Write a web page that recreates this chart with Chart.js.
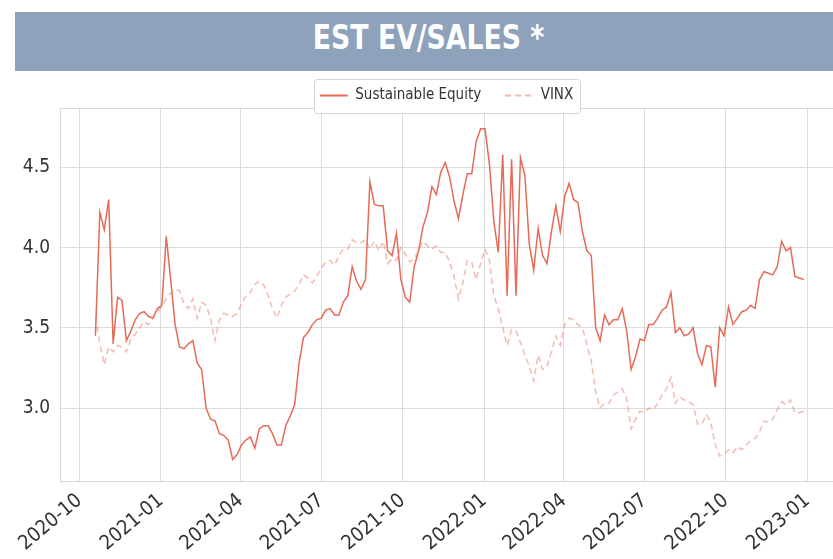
<!DOCTYPE html>
<html>
<head>
<meta charset="utf-8">
<title>EST EV/SALES *</title>
<script src="https://cdn.jsdelivr.net/npm/chart.js@4.4.1/dist/chart.umd.min.js"></script>
<style>
  html, body { margin: 0; padding: 0; background: #fff; }
  #wrap { position: relative; width: 833px; height: 559px; overflow: hidden; }
  #banner {
    position: absolute; left: 15px; top: 12px; width: 818px; height: 59px;
    box-sizing: border-box; padding-left: 10px;
    background: #8fa2bc; color: #fff; text-align: center; line-height: 59px;
    font: bold 33px 'DejaVu Sans Condensed', 'DejaVu Sans', sans-serif;
    z-index: 2;
  }
  #banner span { display: inline-block; transform: scaleX(0.9); position: relative; top: 6px; }
  #chart { position: absolute; left: 0; top: 0; }
</style>
</head>
<body>
<div id="wrap">
  <div id="banner"><span>EST EV/SALES *</span></div>
  <canvas id="chart" width="833" height="559"></canvas>
</div>
<script>
// one value every 5 calendar days, starting on firstDate
const firstDate = '2020-10-19';
const stepDays = 5;

const sustainableEquity = [
  3.45, 4.22, 4.11, 4.30, 3.40, 3.69, 3.67, 3.42, 3.48, 3.55,
  3.59, 3.60, 3.57, 3.56, 3.62, 3.64, 4.07, 3.80, 3.52, 3.38,
  3.37, 3.40, 3.42, 3.28, 3.24, 3.00, 2.93, 2.92, 2.84, 2.83,
  2.80, 2.68, 2.71, 2.77, 2.80, 2.82, 2.75, 2.87, 2.89, 2.89,
  2.84, 2.77, 2.77, 2.89, 2.95, 3.02, 3.28, 3.44, 3.47, 3.52,
  3.55, 3.56, 3.61, 3.62, 3.58, 3.58, 3.66, 3.70, 3.88, 3.79,
  3.74, 3.80, 4.41, 4.27, 4.26, 4.26, 3.98, 3.95, 4.09, 3.80,
  3.69, 3.66, 3.88, 3.98, 4.13, 4.22, 4.38, 4.33, 4.47, 4.53,
  4.44, 4.29, 4.18, 4.33, 4.46, 4.46, 4.66, 4.74, 4.74, 4.52,
  4.16, 3.97, 4.58, 3.70, 4.55, 3.70, 4.56, 4.45, 4.02, 3.86,
  4.12, 3.95, 3.90, 4.10, 4.26, 4.10, 4.32, 4.40, 4.30, 4.28,
  4.10, 3.98, 3.95, 3.50, 3.42, 3.58, 3.52, 3.55, 3.55, 3.62,
  3.48, 3.24, 3.32, 3.43, 3.42, 3.52, 3.52, 3.56, 3.61, 3.63,
  3.72, 3.47, 3.50, 3.45, 3.46, 3.50, 3.34, 3.27, 3.39, 3.38,
  3.13, 3.50, 3.45, 3.63, 3.52, 3.56, 3.60, 3.61, 3.64, 3.62,
  3.80, 3.85, 3.84, 3.83, 3.88, 4.04, 3.98, 4.00, 3.82, 3.81,
  3.80
];

const vinx = [
  3.57, 3.40, 3.27, 3.38, 3.35, 3.39, 3.38, 3.35, 3.43, 3.46,
  3.50, 3.54, 3.52, 3.56, 3.60, 3.63, 3.68, 3.72, 3.74, 3.73,
  3.65, 3.62, 3.68, 3.56, 3.66, 3.64, 3.56, 3.42, 3.55, 3.59,
  3.58, 3.57, 3.59, 3.65, 3.70, 3.72, 3.77, 3.79, 3.77, 3.70,
  3.62, 3.56, 3.64, 3.69, 3.71, 3.73, 3.77, 3.83, 3.81, 3.78,
  3.82, 3.87, 3.91, 3.92, 3.89, 3.95, 3.99, 3.99, 4.05, 4.03,
  4.03, 4.05, 3.99, 4.04, 3.98, 4.04, 3.90, 3.93, 3.92, 4.00,
  3.96, 3.91, 3.93, 3.98, 4.04, 4.01, 3.99, 4.01, 3.97, 3.97,
  3.91, 3.82, 3.68, 3.78, 3.92, 3.91, 3.80, 3.90, 3.99, 3.92,
  3.70, 3.62, 3.50, 3.39, 3.49, 3.48, 3.41, 3.33, 3.26, 3.17,
  3.33, 3.24, 3.26, 3.35, 3.45, 3.39, 3.52, 3.56, 3.55, 3.52,
  3.50, 3.40, 3.29, 3.10, 3.00, 3.03, 3.03, 3.08, 3.10, 3.12,
  3.06, 2.87, 2.93, 2.98, 2.97, 3.00, 2.99, 3.03, 3.08, 3.12,
  3.19, 3.03, 3.07, 3.05, 3.04, 3.02, 2.90, 2.90, 2.96, 2.91,
  2.77, 2.70, 2.71, 2.74, 2.72, 2.76, 2.74, 2.77, 2.80, 2.81,
  2.85, 2.92, 2.91, 2.93, 2.99, 3.04, 3.02, 3.05, 2.97, 2.97,
  2.98
];

const xTickLabels = ['2020-10', '2021-01', '2021-04', '2021-07', '2021-10',
                     '2022-01', '2022-04', '2022-07', '2022-10', '2023-01'];
const yTicks = [3.0, 3.5, 4.0, 4.5];
const xRange = ['2020-09-09', '2023-01-30'];
const yRange = [2.545, 4.87];

const seColor = 'rgb(231, 106, 86)';
const vinxColor = 'rgba(236, 130, 112, 0.55)';
const narrow = "'DejaVu Sans Condensed', 'DejaVu Sans', sans-serif";

function dayNum(s) {
  const p = s.split('-').map(Number);
  return Date.UTC(p[0], p[1] - 1, p[2] || 1) / 864e5;
}
const startDay = dayNum(firstDate);
const toPoints = vals => vals.map((v, i) => ({ x: startDay + i * stepDays, y: v }));
const tickDays = xTickLabels.map(dayNum);

// legend sits a little lower, overlapping the top of the plot like the original
const legendFit = {
  id: 'legendFit',
  beforeInit(chart) {
    const fit = chart.legend.fit;
    chart.legend.fit = function () { fit.call(this); this.height -= 5; };
  }
};

const topSpine = {
  id: 'topSpine',
  beforeDatasetsDraw(chart) {
    const { ctx, chartArea: a } = chart;
    ctx.save();
    ctx.strokeStyle = '#d9d9d9';
    ctx.lineWidth = 1;
    ctx.beginPath();
    ctx.moveTo(a.left, a.top + 0.5);
    ctx.lineTo(a.right, a.top + 0.5);
    ctx.stroke();
    ctx.restore();
  }
};

const legendBox = {
  id: 'legendBox',
  afterDraw(chart) {
    const boxes = chart.legend.legendHitBoxes;
    if (!boxes || !boxes.length) return;
    const left = Math.min(...boxes.map(b => b.left)) - 6;
    const right = Math.max(...boxes.map(b => b.left + b.width)) + 7;
    const top = boxes[0].top - 9;
    const bottom = boxes[0].top + boxes[0].height + 10;
    const ctx = chart.ctx;
    ctx.save();
    ctx.beginPath();
    ctx.roundRect(Math.round(left) + 0.5, Math.round(top) + 0.5, Math.round(right - left), Math.round(bottom - top), 3);
    ctx.fillStyle = '#fff';
    ctx.fill();
    ctx.strokeStyle = '#d4d4d4';
    ctx.lineWidth = 1;
    ctx.stroke();
    ctx.restore();
    chart.legend.draw();
  }
};

new Chart('chart', {
  type: 'line',
  data: {
    datasets: [
      { label: 'Sustainable Equity', data: toPoints(sustainableEquity), borderColor: seColor,
        borderWidth: 1.5, pointRadius: 0, pointStyle: 'line', order: 2 },
      { label: 'VINX', data: toPoints(vinx), borderColor: vinxColor,
        borderWidth: 1.5, borderDash: [6, 4], pointRadius: 0, pointStyle: 'line', order: 1 }
    ]
  },
  options: {
    responsive: false,
    animation: false,
    devicePixelRatio: 1,
    layout: { padding: { top: 64, left: 0, right: 0, bottom: 0 } },
    scales: {
      x: {
        type: 'linear',
        min: dayNum(xRange[0]),
        max: dayNum(xRange[1]),
        afterBuildTicks: s => { s.ticks = tickDays.map(v => ({ value: v })); },
        afterFit: s => { s.height = 78; },
        grid: { color: '#dcdcdc', drawTicks: false },
        border: { color: '#d9d9d9' },
        ticks: {
          autoSkip: false, maxRotation: 40, minRotation: 40, padding: 8,
          color: '#333', font: { family: narrow, size: 20 },
          callback: (v, i) => xTickLabels[i]
        }
      },
      y: {
        min: yRange[0],
        max: yRange[1],
        afterBuildTicks: s => { s.ticks = yTicks.map(v => ({ value: v })); },
        afterFit: s => { s.width = 60; },
        grid: { color: '#dcdcdc', drawTicks: false },
        border: { color: '#d9d9d9' },
        ticks: {
          padding: 10, color: '#333', font: { family: narrow, size: 19 },
          callback: v => v.toFixed(1)
        }
      }
    },
    plugins: {
      tooltip: { enabled: false },
      legend: {
        position: 'top',
        fullSize: false,
        align: 'center',
        labels: {
          usePointStyle: true,
          pointStyleWidth: 28,
          padding: 24,
          font: { family: narrow, size: 15 },
          generateLabels: chart => chart.data.datasets.map((ds, i) => ({
            text: ds.label,
            datasetIndex: i,
            strokeStyle: ds.borderColor,
            fillStyle: ds.borderColor,
            lineWidth: 2,
            lineDash: ds.borderDash || [],
            pointStyle: 'line',
            hidden: false,
            fontColor: '#333'
          }))
        }
      }
    }
  },
  plugins: [legendFit, topSpine, legendBox]
});
</script>
</body>
</html>
